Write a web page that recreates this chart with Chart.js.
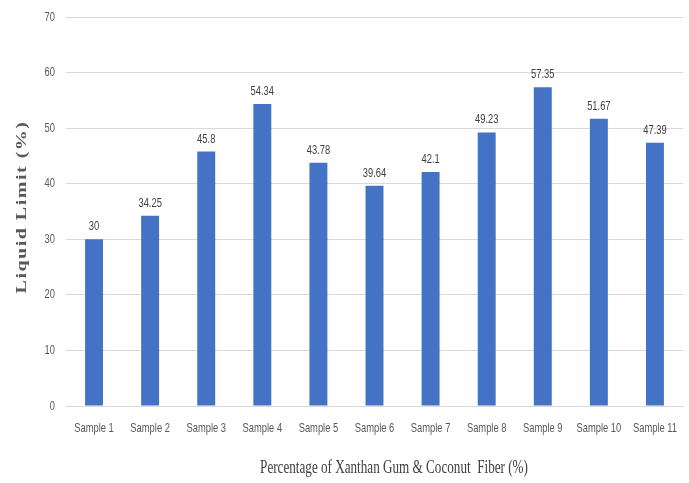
<!DOCTYPE html>
<html>
<head>
<meta charset="utf-8">
<script src="https://cdn.jsdelivr.net/npm/chart.js@4/dist/chart.umd.min.js"></script>
<style>
  html, body { margin: 0; padding: 0; background: #ffffff; }
  #wrap { width: 689px; height: 483px; }
</style>
</head>
<body>
<div id="wrap"><canvas id="chart" width="689" height="483"></canvas></div>
<script>
// Liquid limit for each mix sample
const categories = ['Sample 1', 'Sample 2', 'Sample 3', 'Sample 4', 'Sample 5', 'Sample 6',
                    'Sample 7', 'Sample 8', 'Sample 9', 'Sample 10', 'Sample 11'];
const liquidLimit = [30, 34.25, 45.8, 54.34, 43.78, 39.64, 42.1, 49.23, 57.35, 51.67, 47.39];
const yTicks = [0, 10, 20, 30, 40, 50, 60, 70];
const xTitle = 'Percentage of Xanthan Gum & Coconut  Fiber (%)';
const yTitle = 'Liquid Limit (%)';

const sans = '"Liberation Sans", Arial, sans-serif';
const serif = '"Liberation Serif", "Times New Roman", serif';
const SQUEEZE = 0.72; // narrow text face

// draw text compressed along its own baseline
function narrowText(ctx, text, x, y, opts) {
  ctx.save();
  ctx.translate(x, y);
  if (opts.rotate) ctx.rotate(opts.rotate);
  if (opts.rotate) ctx.scale(1, SQUEEZE); else ctx.scale(opts.sx || SQUEEZE, 1);
  ctx.font = opts.font;
  ctx.fillStyle = opts.color;
  ctx.textAlign = opts.align || 'center';
  ctx.textBaseline = opts.baseline || 'middle';
  if (opts.spacing) ctx.letterSpacing = opts.spacing;
  ctx.fillText(text, 0, 0);
  ctx.restore();
}

// tick labels, value labels and axis titles
const textLayer = {
  id: 'textLayer',
  afterDraw(chart) {
    const ctx = chart.ctx;
    const area = chart.chartArea;
    const xs = chart.scales.x;
    const ys = chart.scales.y;

    yTicks.forEach(v => {
      narrowText(ctx, String(v), 55, ys.getPixelForValue(v), {
        font: '13px ' + sans, color: '#595959', align: 'right'
      });
    });

    categories.forEach((c, i) => {
      narrowText(ctx, c, xs.getPixelForTick(i), area.bottom + 22, {
        font: '13px ' + sans, color: '#595959'
      });
    });

    const meta = chart.getDatasetMeta(0);
    meta.data.forEach((bar, i) => {
      narrowText(ctx, String(liquidLimit[i]), bar.x, bar.y - 6, {
        font: '13px ' + sans, color: '#404040', baseline: 'bottom'
      });
    });

    narrowText(ctx, xTitle, 394, 468, {
      font: '18px ' + serif, color: '#404040', sx: 0.73
    });
    narrowText(ctx, yTitle, 22, 207, {
      font: 'bold 20px ' + serif, color: '#595959', rotate: -Math.PI / 2, spacing: '1.5px'
    });
  }
};

new Chart(document.getElementById('chart'), {
  type: 'bar',
  data: {
    labels: categories,
    datasets: [{
      data: liquidLimit,
      backgroundColor: '#4472C4',
      borderWidth: 0,
      categoryPercentage: 1.0,
      barPercentage: 0.32
    }]
  },
  options: {
    responsive: false,
    animation: false,
    layout: { padding: { left: 66, right: 6, top: 17, bottom: 77 } },
    plugins: {
      legend: { display: false },
      tooltip: { enabled: false }
    },
    scales: {
      x: {
        grid: { display: false, drawTicks: false },
        border: { display: true, color: '#d9d9d9', width: 1 },
        ticks: { display: false }
      },
      y: {
        min: 0,
        max: 70,
        afterBuildTicks(scale) { scale.ticks = yTicks.map(v => ({ value: v })); },
        grid: { color: '#d9d9d9', lineWidth: 1, drawTicks: false },
        border: { display: false },
        ticks: { display: false }
      }
    }
  },
  plugins: [textLayer]
});
</script>
</body>
</html>
